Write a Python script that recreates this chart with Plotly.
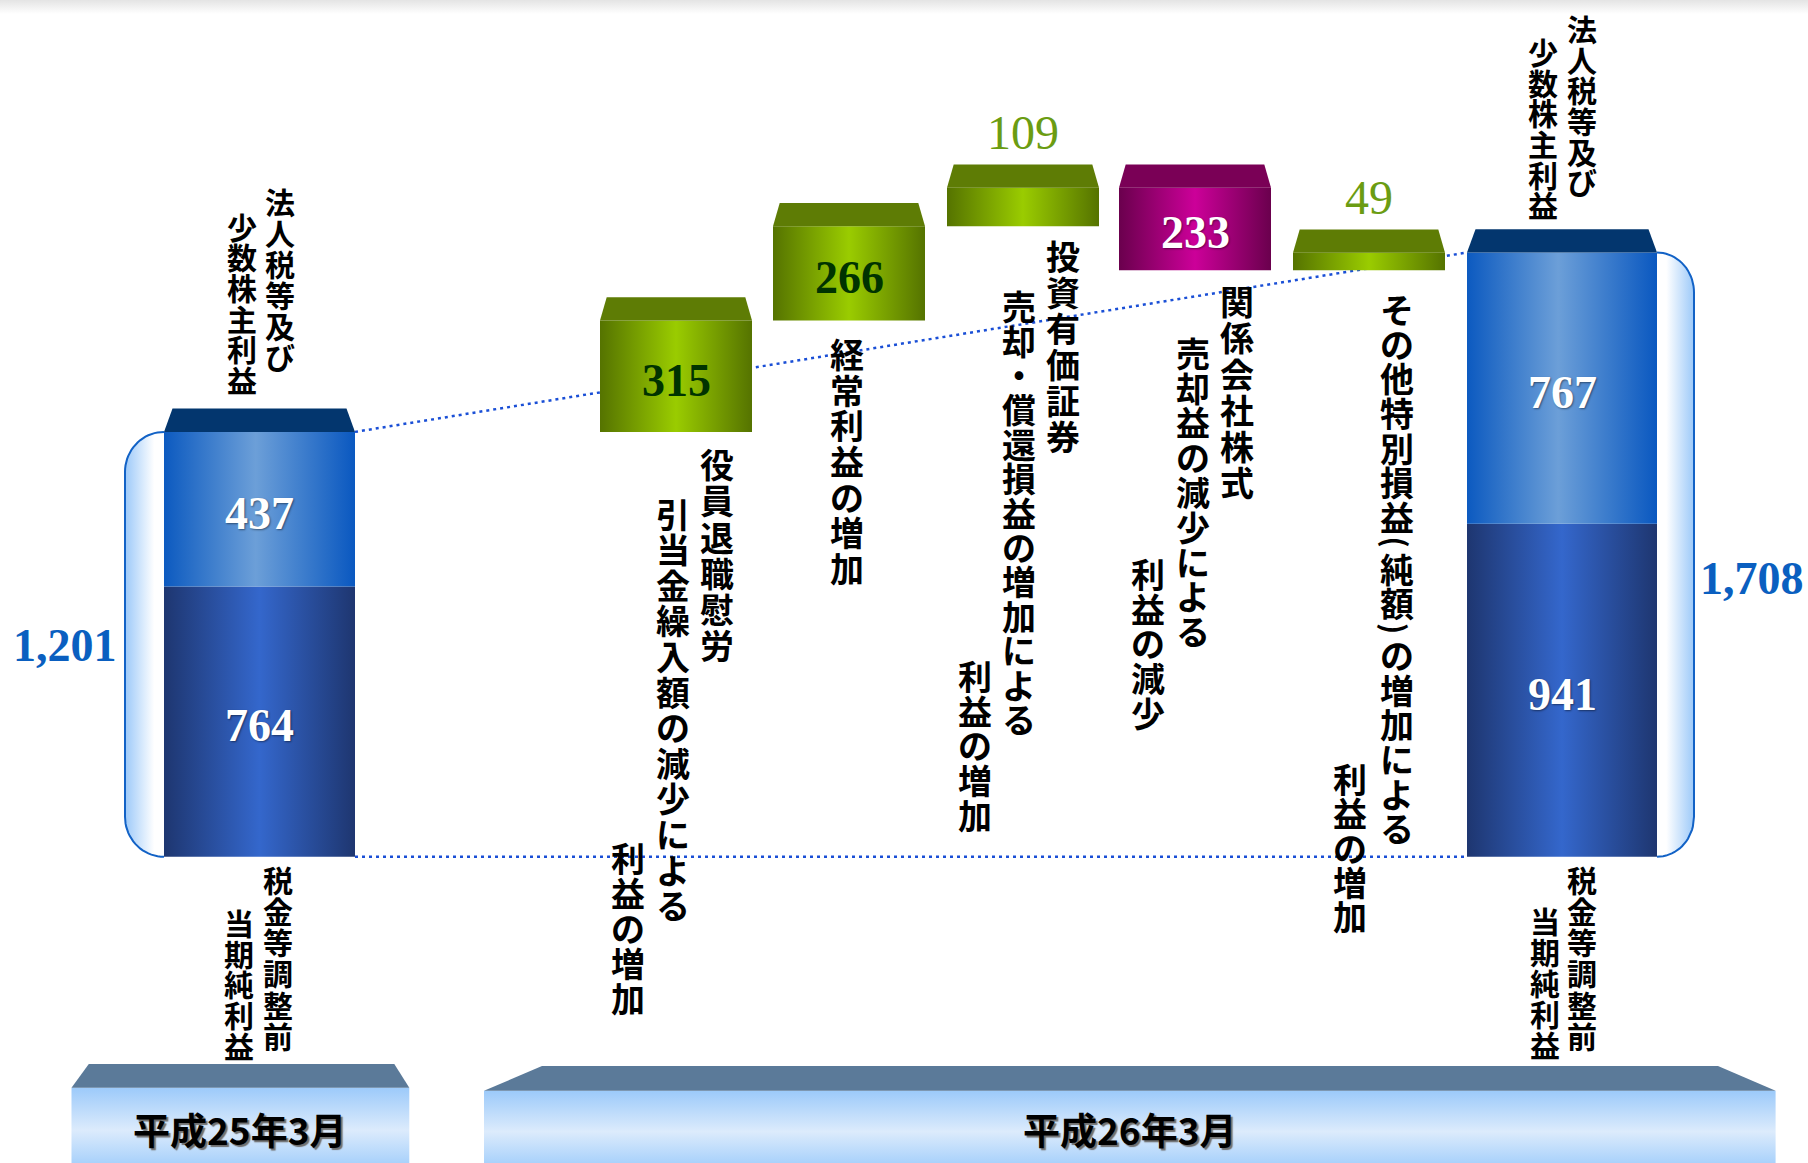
import numpy as np
import plotly.graph_objects as go

# ---------------- data ----------------
start_segments = [764, 437]          # 平成25年3月 (下: 税金等調整前当期純利益, 上: 法人税等及び少数株主利益)
start_segment_labels = ["764", "437"]
end_segments = [941, 767]            # 平成26年3月
end_segment_labels = ["941", "767"]
start_total_label = "1,201"
end_total_label = "1,708"

changes = [315, 266, 109, -233, 49]
change_labels = ["315", "266", "109", "233", "49"]
change_text = [
    ["役員退職慰労", "引当金繰入額の減少による", "利益の増加"],
    ["経常利益の増加"],
    ["投資有価証券", "売却・償還損益の増加による", "利益の増加"],
    ["関係会社株式", "売却益の減少による", "利益の減少"],
    ["その他特別損益(純額)の増加による", "利益の増加"],
]
upper_text = ["法人税等及び", "少数株主利益"]
lower_text = ["税金等調整前", "当期純利益"]
period_labels = ["平成25年3月", "平成26年3月"]

# ---------------- layout constants (pixels) ----------------
W, H = 1808, 1163
Y0PX = 856.8          # pixel row of value 0
K = 0.3538            # pixels per unit


def px2v(p):
    return (Y0PX - p) / K


def v2px(v):
    return Y0PX - v * K


def ypaper(p):
    return 1 - p / H


BAR_CX = [259.5, 676, 849, 1023, 1195, 1369, 1562]
BAR_W = [191, 152, 152, 152, 152, 152, 190]
CAP_H = 23.3 / K

# (x centre, top of first glyph, character pitch) for each text column
CHANGE_COL_POS = [
    [(716.7, 448, 36.2), (673, 497.4, 35.6), (627.7, 841.5, 35.2)],
    [(846.5, 338, 35.6)],
    [(1063, 240, 36.0), (1019, 290, 34.4), (974.5, 660, 34.6)],
    [(1236.7, 285, 36.2), (1193, 336.7, 34.8), (1148, 558, 34.6)],
    [(1396.7, 293, 34.6), (1350, 763, 34.2)],
]
UPPER_POS = [[(280, 187, 31.0), (242, 212, 30.6)], [(1581.7, 14.4, 30.6), (1543, 37.3, 30.6)]]
LOWER_POS = [[(277.7, 865, 31.2), (239, 908, 30.8)], [(1581.7, 865, 31.2), (1545, 906.7, 30.8)]]

JP_FONT = "Noto Sans CJK JP"
NUM_FONT = "Liberation Serif"

BLUE_DARK = [[0, "#1e3670"], [0.5, "#3467cc"], [1, "#1e3670"]]
BLUE_LIGHT = [[0, "#0c5ac0"], [0.48, "#6c9fd8"], [1, "#0a58c0"]]
GREEN = [[0, "#557300"], [0.5, "#9acc00"], [1, "#557300"]]
MAGENTA = [[0, "#6a004d"], [0.5, "#cc0099"], [1, "#6a004d"]]
CAP_BLUE = "#03366e"
CAP_GREEN = "#5e7c05"
CAP_MAGENTA = "#7a0056"

fig = go.Figure()


def poly(xs, ys, grad=None, color=None, line=None, gtype="horizontal", start=None, stop=None):
    kw = dict(x=list(xs) + [xs[0]], y=list(ys) + [ys[0]], fill="toself", mode="lines",
              hoverinfo="skip", showlegend=False)
    if line is None:
        kw["line"] = dict(width=0, color="rgba(0,0,0,0)")
    else:
        kw["line"] = line
    if grad is not None:
        g = dict(type=gtype, colorscale=grad)
        if start is not None:
            g["start"] = start
            g["stop"] = stop
        kw["fillgradient"] = g
    else:
        kw["fillcolor"] = color
    fig.add_trace(go.Scatter(**kw))


# top grey fade
poly([0, W, W, 0], [px2v(0), px2v(0), px2v(14), px2v(14)],
     grad=[[0, "#ffffff"], [1, "#e4e4e4"]], gtype="vertical", start=px2v(14), stop=px2v(0))

start_total = sum(start_segments)
end_total = sum(end_segments)


# brackets
def bracket(edge_x, width, total, side):
    top_p, bot_p = v2px(total), v2px(0)
    rx, ry = width, 40
    t = np.linspace(0, np.pi / 2, 20)
    outer = edge_x - width if side == "left" else edge_x + width
    sgn = -1 if side == "left" else 1
    xs, ys = [], []
    for a in t:
        xs.append(edge_x + sgn * rx * np.sin(a))
        ys.append(top_p + ry * (1 - np.cos(a)))
    for a in t[::-1]:
        xs.append(edge_x + sgn * rx * np.sin(a))
        ys.append(bot_p - ry * (1 - np.cos(a)))
    vs = [px2v(p) for p in ys]
    if side == "left":
        grad = [[0, "#9cc9f9"], [0.75, "#ffffff"], [1, "#ffffff"]]
        st, sp = outer, edge_x
    else:
        grad = [[0, "#ffffff"], [0.25, "#ffffff"], [1, "#9cc9f9"]]
        st, sp = edge_x, outer
    fig.add_trace(go.Scatter(x=xs, y=vs, mode="lines", fill="toself",
                             fillgradient=dict(type="horizontal", colorscale=grad, start=st, stop=sp),
                             line=dict(color="#1262c6", width=2), hoverinfo="skip", showlegend=False))


bracket(BAR_CX[0] - BAR_W[0] / 2, 39, start_total, "left")
bracket(BAR_CX[-1] + BAR_W[-1] / 2, 37, end_total, "right")

# dotted connector lines
xl = BAR_CX[0] + BAR_W[0] / 2
xr = BAR_CX[-1] - BAR_W[-1] / 2
for a, b in [(start_total, end_total), (0, 0)]:
    fig.add_trace(go.Scatter(x=[xl, xr], y=[a, b], mode="lines",
                             line=dict(color="#1a4fd6", width=2.5, dash="3px,4px"),
                             hoverinfo="skip", showlegend=False))


def bar(cx, w, y0, y1, grad):
    x0, x1 = cx - w / 2, cx + w / 2
    poly([x0, x1, x1, x0], [y0, y0, y1, y1], grad=grad, start=x0, stop=x1)


def cap(cx, w, top, color, inset):
    x0, x1 = cx - w / 2, cx + w / 2
    poly([x0, x0 + inset, x1 - inset, x1], [top, top + CAP_H, top + CAP_H, top], color=color)


annotations = []


def num_label(x, y, text, color, size, bold=True, yshift=0, yref="y", shadow="none"):
    t = f"<b>{text}</b>" if bold else text
    annotations.append(dict(x=x, y=y, xref="x", yref=yref, text=t, showarrow=False,
                            xanchor="center", yanchor="middle", yshift=yshift,
                            font=dict(family=NUM_FONT, size=size, color=color, shadow=shadow)))


WHITE_SHADOW = "1px 1px 2px rgba(0,0,0,0.45)"

# start & end stacked bars
for idx, segs, labs in [(0, start_segments, start_segment_labels), (6, end_segments, end_segment_labels)]:
    base = 0
    for j, (s, lab) in enumerate(zip(segs, labs)):
        bar(BAR_CX[idx], BAR_W[idx], base, base + s, BLUE_DARK if j == 0 else BLUE_LIGHT)
        num_label(BAR_CX[idx], base + s / 2, lab, "white", 46, yshift=-4, shadow=WHITE_SHADOW)
        base += s
    cap(BAR_CX[idx], BAR_W[idx], base, CAP_BLUE, 8.5)

# waterfall changes
run = start_total
for i, c in enumerate(changes):
    lo, hi = (run, run + c) if c > 0 else (run + c, run)
    cx, w = BAR_CX[i + 1], BAR_W[i + 1]
    bar(cx, w, lo, hi, GREEN if c > 0 else MAGENTA)
    cap(cx, w, hi, CAP_GREEN if c > 0 else CAP_MAGENTA, 6.7)
    if (hi - lo) * K < 50:
        num_label(cx, hi, change_labels[i], "#6b9c12", 48, bold=False, yshift=55)
    elif c > 0:
        num_label(cx, (lo + hi) / 2, change_labels[i], "#003300", 46, yshift=-4)
    else:
        num_label(cx, (lo + hi) / 2, change_labels[i], "white", 46, yshift=-4, shadow=WHITE_SHADOW)
    run += c

# totals
num_label(65, ypaper(645), start_total_label, "#0a5fc0", 46, yref="paper")
num_label(1751.5, ypaper(578), end_total_label, "#0a5fc0", 46, yref="paper")

# bottom period boxes
boxes = [
    dict(x0=71.5, x1=409.3, tx0=88.8, tx1=394.3, ctop=1064, cbot=1087.7),
    dict(x0=484, x1=1775.6, tx0=542, tx1=1718, ctop=1066, cbot=1090.7),
]
BOX_GRAD = [[0, "#a6d0fb"], [0.45, "#dcebfc"], [1, "#9ccafa"]]
for b in boxes:
    poly([b["x0"], b["x1"], b["x1"], b["x0"]], [px2v(b["cbot"]), px2v(b["cbot"]), px2v(H + 2), px2v(H + 2)],
         grad=BOX_GRAD, gtype="vertical", start=px2v(H + 2), stop=px2v(b["cbot"]))
    poly([b["x0"], b["tx0"], b["tx1"], b["x1"]], [px2v(b["cbot"]), px2v(b["ctop"]), px2v(b["ctop"]), px2v(b["cbot"])],
         color="#5b7a99")

for lab, bx in zip(period_labels, boxes):
    cx = (bx["x0"] + bx["x1"]) / 2
    annotations.append(dict(x=cx, y=ypaper(1129), xref="x", yref="paper", text=f"<b>{lab}</b>",
                            showarrow=False, xanchor="center", yanchor="middle",
                            font=dict(family=JP_FONT, size=37, color="black",
                                      shadow="2px 2px 1px #707070")))


# vertical japanese text (one annotation per character, brackets rotated in half slots)
HALF = {"(", ")"}


def vcol(text, x, top, pitch, size):
    ink = 0.92 * size
    pos = top - (pitch - ink) / 2
    for ch in text:
        adv = pitch / 2 if ch in HALF else pitch
        ann = dict(x=x, y=ypaper(pos + adv / 2), xref="x", yref="paper",
                   text=f"<b>{ch}</b>", showarrow=False, xanchor="center", yanchor="middle",
                   borderpad=0, font=dict(family=JP_FONT, size=size, color="black"))
        if ch in HALF:
            ann["textangle"] = 90
            ann["font"] = dict(family=JP_FONT, size=int(size * 0.9), color="black")
        annotations.append(ann)
        pos += adv


for cols, poss in zip(change_text, CHANGE_COL_POS):
    for t, (x, top, p) in zip(cols, poss):
        vcol(t, x, top, p, 34)
for poss in UPPER_POS:
    for t, (x, top, p) in zip(upper_text, poss):
        vcol(t, x, top, p, 30)
for poss in LOWER_POS:
    for t, (x, top, p) in zip(lower_text, poss):
        vcol(t, x, top, p, 30)

fig.update_layout(
    width=W, height=H, margin=dict(l=0, r=0, t=0, b=0),
    paper_bgcolor="white", plot_bgcolor="white",
    xaxis=dict(range=[0, W], visible=False, fixedrange=True),
    yaxis=dict(range=[px2v(H), px2v(0)], visible=False, fixedrange=True),
    annotations=annotations, showlegend=False,
)

fig.write_html("out.html", config={"displayModeBar": False},
               post_script="document.body.style.margin='0';document.body.style.overflow='hidden';")
